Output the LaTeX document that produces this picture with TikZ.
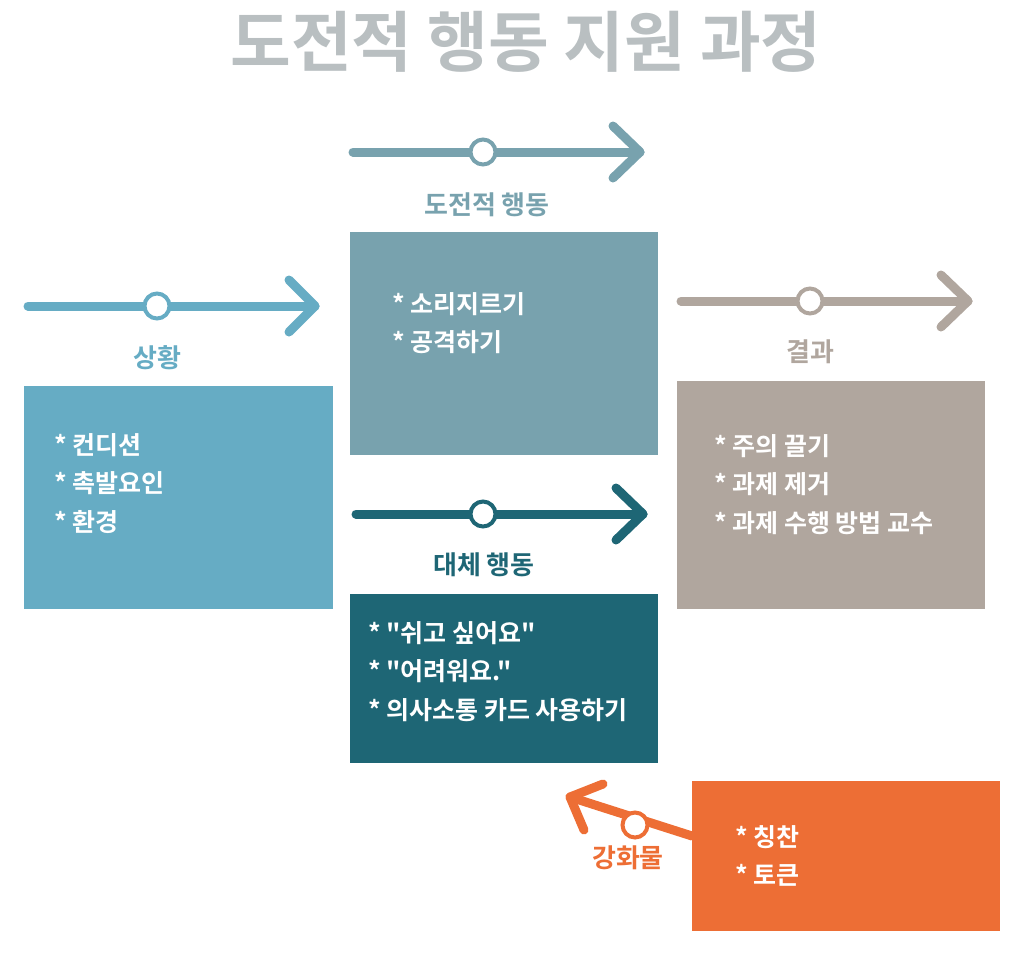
\documentclass[tikz,border=0pt]{standalone}
\usepackage{fontspec}
\setmainfont{Noto Sans CJK KR}[BoldFont={Noto Sans CJK KR Bold}, Ligatures=TeXOff]
\definecolor{cTitle}{HTML}{B9BFC1}
\definecolor{cSit}{HTML}{66ACC4}
\definecolor{cBeh}{HTML}{78A2AE}
\definecolor{cRes}{HTML}{B0A69E}
\definecolor{cAlt}{HTML}{1E6675}
\definecolor{cRein}{HTML}{ED6E35}
\tikzset{
  flow/.style={line width=9pt, line cap=round, line join=round},
  dot/.style={circle, draw, line width=4pt, fill=white, minimum size=25pt, inner sep=0pt},
  lbl/.style={font=\fontsize{26}{30}\selectfont\bfseries},
  items/.style={font=\fontsize{25}{38.5}\selectfont\bfseries, text=white, align=left, anchor=north west, inner sep=0pt},
}
\begin{document}
\begin{tikzpicture}[x=1pt,y=-1pt]
\useasboundingbox (0,0) rectangle (1018,956);
% title
\node[font=\fontsize{66}{72}\selectfont\bfseries, text=cTitle] (title) at (526,42) {도전적 행동 지원 과정};

% situation
\fill[cSit] (24,386) rectangle (333,609);
\coordinate (s1) at (28,306); \coordinate (s2) at (315,306);
\draw[flow, cSit] (s1) -- (s2);
\draw[flow, cSit] (289,280) -- (s2) -- (289,332);
\node[dot, draw=cSit] (sd) at (157,306) {};
\node[lbl, text=cSit] (sl) at (157,358) {상황};
\node[items] (st) at (54,433) {* 컨디션\\* 촉발요인\\* 환경};

% challenging behaviour
\fill[cBeh] (350,232) rectangle (658,455);
\coordinate (b1) at (353,152); \coordinate (b2) at (640,152);
\draw[flow, cBeh] (b1) -- (b2);
\draw[flow, cBeh] (613,126) -- (b2) -- (613,178);
\node[dot, draw=cBeh] (bd) at (483,152) {};
\node[lbl, text=cBeh] (bl) at (487,205) {도전적 행동};
\node[items] (bt) at (392,292) {* 소리지르기\\* 공격하기};

% result
\fill[cRes] (677,381) rectangle (985,609);
\coordinate (r1) at (681,301); \coordinate (r2) at (968,301);
\draw[flow, cRes] (r1) -- (r2);
\draw[flow, cRes] (941,275) -- (r2) -- (941,327);
\node[dot, draw=cRes] (rd) at (810,301) {};
\node[lbl, text=cRes] (rl) at (810,352) {결과};
\node[items] (rt) at (714,434) {* 주의 끌기\\* 과제 제거\\* 과제 수행 방법 교수};

% alternative behaviour
\fill[cAlt] (350,594) rectangle (658,763);
\coordinate (a1) at (356,514); \coordinate (a2) at (643,514);
\draw[flow, cAlt] (a1) -- (a2);
\draw[flow, cAlt] (616,488) -- (a2) -- (616,540);
\node[dot, draw=cAlt] (ad) at (483,514) {};
\node[lbl, text=cAlt] (al) at (484,565) {대체 행동};
\node[items] (at) at (368,621) {* "쉬고 싶어요"\\* "어려워요."\\* 의사소통 카드 사용하기};

% reinforcer
\fill[cRein] (692,781) rectangle (1000,931);
\coordinate (f1) at (692,836); \coordinate (f2) at (570,797);
\draw[flow, cRein] (f1) -- (f2);
\draw[flow, cRein] (603,784) -- (f2) -- (584,830);
\node[dot, draw=cRein] (fd) at (635,825) {};
\node[lbl, text=cRein] (fl) at (628,858) {강화물};
\node[items] (ft) at (735,825) {* 칭찬\\* 토큰};
\end{tikzpicture}
\end{document}
